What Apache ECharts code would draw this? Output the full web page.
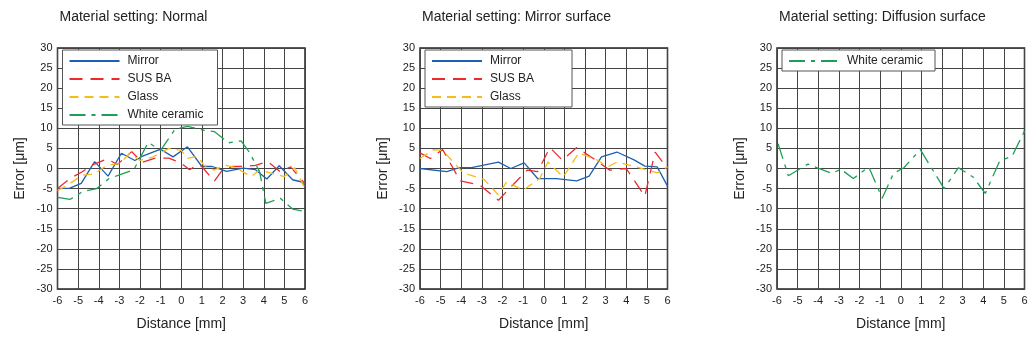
<!DOCTYPE html>
<html>
<head>
<meta charset="utf-8">
<script src="https://cdn.jsdelivr.net/npm/echarts@6/dist/echarts.min.js"></script>
<style>
  html, body { margin: 0; padding: 0; background: #fff; }
  #chart { width: 1034px; height: 349px; }
</style>
</head>
<body>
<div id="chart"></div>
<script>
// panel titles
const titles = ['Material setting: Normal', 'Material setting: Mirror surface', 'Material setting: Diffusion surface']

// [distance mm, error um]
// Normal
const normalMirror = [[-6, -5], [-5.4, -4.9], [-4.85, -3.7], [-4.2, 1.7], [-3.55, -1.9], [-2.9, 3.8], [-2.25, 2.0], [-1.9, 3.0], [-1.0, 4.8], [-0.4, 2.9], [0.3, 5.4], [1.0, 0.5], [1.5, 0.5], [2.2, -0.7], [3.0, 0.1], [3.6, -0.3], [4.15, -2.6], [4.75, 0.7], [5.4, -2.8], [5.8, -3.3], [6, -4.2]]
const normalSus = [[-6, -5], [-5.4, -2.5], [-4.8, -0.8], [-4.3, 0.9], [-3.6, 2.4], [-3.1, 1.0], [-2.4, 4.2], [-1.9, 1.5], [-1.3, 2.5], [-0.6, 2.6], [0, 1.3], [0.4, -0.3], [0.8, 0.9], [1.0, 0.5], [1.6, -3.2], [2.0, -0.3], [2.5, 0.5], [3.1, 0.5], [3.6, 0.8], [4.2, 1.7], [4.8, -0.8], [5.3, 0.4], [6, -3.8]]
const normalGlass = [[-6, -5.5], [-5.5, -4.1], [-4.8, -1.7], [-4.2, -1.3], [-3.6, 0.8], [-3.0, 1.2], [-2.5, 3.7], [-2.0, 2.0], [-1.4, 2.8], [-0.6, 5.0], [0, 4.5], [0.3, 2.5], [0.8, 3.0], [1.1, 0.8], [1.6, -0.4], [2.1, 0.8], [2.6, 0.3], [3.4, -2.0], [3.8, -0.4], [4.4, -1.2], [5.0, -2.0], [5.5, 0.2], [6, -5]]
const normalCeramic = [[-6, -7.2], [-5.4, -7.7], [-4.8, -5.8], [-4.1, -5.0], [-3.5, -2.5], [-3.0, -1.6], [-2.3, -0.3], [-1.6, 6.5], [-1.0, 4.5], [-0.3, 9.8], [0.3, 10.5], [1.0, 9.6], [1.6, 9.2], [2.3, 6.4], [2.9, 6.9], [3.3, 4.1], [3.8, -0.8], [4.1, -8.7], [4.8, -7.4], [5.4, -10.1], [6, -10.7]]
// Mirror surface
const mirrorMirror = [[-6, 0], [-4.7, -0.8], [-4.1, 0.2], [-3.5, 0.2], [-2.2, 1.6], [-1.6, 0], [-0.95, 1.4], [-0.3, -2.5], [0.6, -2.5], [1.6, -3.1], [2.2, -1.9], [2.8, 2.9], [3.55, 4.1], [4.4, 2.1], [4.9, 0.6], [5.5, 0.4], [6, -4.4]]
const mirrorSus = [[-6, 3.9], [-5.5, 2.5], [-4.9, 4.7], [-4.05, -3.1], [-3.1, -4.1], [-2.2, -7.9], [-1.5, -4.1], [-0.8, -0.4], [-0.3, -0.8], [0.3, 5.2], [0.9, 2.1], [1.6, 5.2], [2.4, 2.5], [3.2, -0.4], [4.0, 0], [4.9, -6.9], [5.4, 4.1], [6, 0]]
const mirrorGlass = [[-6, 2.5], [-5.35, 4.7], [-4.9, 4.5], [-3.9, -1.1], [-2.9, -2.7], [-2.2, -6.6], [-1.8, -3.3], [-1.0, -5.4], [-0.2, -2.5], [0.2, 1.6], [0.95, -2.1], [1.7, 3.9], [2.6, 2.1], [3.1, 0.4], [3.55, 1.6], [4.5, 0.4], [5.5, -1.1], [6, 0.4]]
// Diffusion surface
const diffusionCeramic = [[-5.95, 6.2], [-5.45, -1.8], [-4.5, 1.1], [-4.07, 0.2], [-3.35, -1.2], [-2.9, -0.2], [-2.3, -2.5], [-1.55, 0.4], [-0.9, -7.4], [-0.35, -1.2], [0.15, 0.2], [0.95, 4.7], [2.1, -5], [2.8, 0.2], [3.5, -2.1], [4.1, -6.2], [4.8, 1.9], [5.4, 3.1], [6, 9.3]]

const styles = {
    'Mirror': { color: '#1f5fb0', type: 'solid' },
    'SUS BA': { color: '#ec2a2e', type: [13, 8] },
    'Glass': { color: '#f7bb1c', type: [9, 6] },
    'White ceramic': { color: '#1da054', type: [16, 6, 4, 6] },
}

const panelLeft = [57.5, 420, 777]
const panelWidth = 247.5
const legendRightPad = [14, 38, 12]
const font = 'Liberation Sans, Arial, sans-serif'

const makeSeries = (name, data, idx) => ({
    name: name,
    type: 'line',
    xAxisIndex: idx,
    yAxisIndex: idx,
    symbol: 'none',
    showSymbol: false,
    animation: false,
    lineStyle: { color: styles[name].color, type: styles[name].type, width: 1.3 },
    itemStyle: { color: styles[name].color },
    data: data,
})

const series = [
    makeSeries('Mirror', normalMirror, 0),
    makeSeries('SUS BA', normalSus, 0),
    makeSeries('Glass', normalGlass, 0),
    makeSeries('White ceramic', normalCeramic, 0),
    makeSeries('Mirror', mirrorMirror, 1),
    makeSeries('SUS BA', mirrorSus, 1),
    makeSeries('Glass', mirrorGlass, 1),
    makeSeries('White ceramic', diffusionCeramic, 2),
]

const legendNames = [
    ['Mirror', 'SUS BA', 'Glass', 'White ceramic'],
    ['Mirror', 'SUS BA', 'Glass'],
    ['White ceramic'],
]

const option = {
    animation: false,
    title: titles.map((t, i) => ({
        text: t,
        left: panelLeft[i] + 2,
        top: 10,
        padding: 0,
        textStyle: { fontFamily: font, fontSize: 14, fontWeight: 'normal', color: '#222' },
    })),
    legend: legendNames.map((names, i) => ({
        data: names,
        orient: 'vertical',
        left: panelLeft[i] + 5,
        top: 50,
        itemWidth: 50,
        itemHeight: 10,
        itemGap: 6,
        padding: [5, legendRightPad[i], 4, 6],
        backgroundColor: '#fff',
        borderColor: '#555',
        borderWidth: 1,
        selectedMode: false,
        itemStyle: { opacity: 0 },
        textStyle: { fontFamily: font, fontSize: 12, color: '#222', padding: [0, 0, 0, 3] },
    })),
    grid: panelLeft.map(l => ({
        left: l,
        width: panelWidth,
        top: 48,
        bottom: 60,
        show: true,
        borderColor: '#222',
        borderWidth: 1.5,
        backgroundColor: '#fff',
    })),
    xAxis: panelLeft.map((l, i) => ({
        type: 'value',
        gridIndex: i,
        min: -6,
        max: 6,
        interval: 1,
        name: 'Distance [mm]',
        nameLocation: 'middle',
        nameGap: 28,
        nameTextStyle: { fontFamily: font, fontSize: 14, color: '#222' },
        axisLine: { show: false },
        axisTick: { show: false },
        axisLabel: { fontFamily: font, fontSize: 11, color: '#222', margin: 6 },
        splitLine: { show: true, lineStyle: { color: '#444', width: 1 } },
    })),
    yAxis: panelLeft.map((l, i) => ({
        type: 'value',
        gridIndex: i,
        min: -30,
        max: 30,
        interval: 5,
        name: 'Error [μm]',
        nameLocation: 'middle',
        nameGap: 30,
        nameTextStyle: { fontFamily: font, fontSize: 14, color: '#222' },
        axisLine: { show: false },
        axisTick: { show: false },
        axisLabel: { fontFamily: font, fontSize: 11, color: '#222', margin: 5 },
        splitLine: { show: true, lineStyle: { color: '#444', width: 1 } },
    })),
    series: series,
}

const myChart = echarts.init(document.getElementById('chart'), null, { renderer: 'canvas' })
myChart.setOption(option)
</script>
</body>
</html>
